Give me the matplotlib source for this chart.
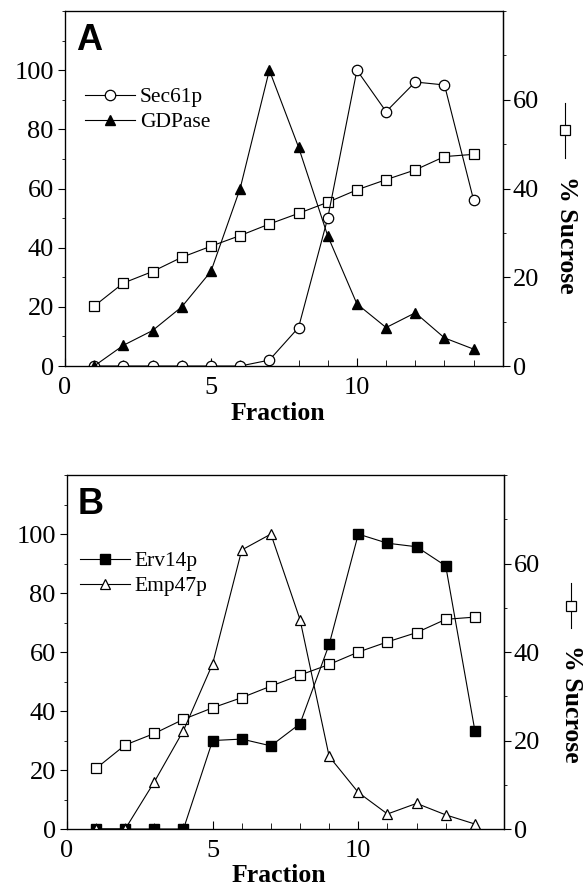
import matplotlib.pyplot as plt
from matplotlib.lines import Line2D
from matplotlib.ticker import MultipleLocator

plt.rcParams["font.family"] = ["Liberation Serif", "DejaVu Serif"]

fractions = [1, 2, 3, 4, 5, 6, 7, 8, 9, 10, 11, 12, 13, 14]

# panel A
sec61p = [0, 0, 0, 0, 0, 0, 2, 13, 50, 100, 86, 96, 95, 56]
gdpase = [0, 7, 12, 20, 32, 60, 100, 74, 44, 21, 13, 18, 9.5, 5.7]
sucrose_a = [13.5, 18.7, 21.3, 24.5, 27, 29.4, 32, 34.4, 36.9, 39.7, 42, 44.2, 47.2, 47.7]

# panel B
erv14p = [0, 0, 0, 0, 30, 30.5, 28.2, 35.7, 62.6, 100, 96.9, 95.7, 89.2, 33.4]
emp47p = [0, 0, 16, 33.4, 56, 94.6, 100, 71, 24.6, 12.4, 5.1, 8.7, 4.8, 1.7]
sucrose_b = [13.7, 19, 21.6, 24.8, 27.4, 29.7, 32.3, 34.8, 37.2, 40, 42.3, 44.4, 47.4, 47.9]

fig = plt.figure(figsize=(5.87, 8.88), dpi=100)

TICK_FS = 19
LAB_FS = 18.5


def panel(rect, letter, s1, s2, sucrose, names, styles, leg_xy, lab_xy):
    ax = fig.add_axes(rect)
    for s, nm, st in zip([s1, s2], names, styles):
        ax.plot(fractions, s, color="black", lw=0.8, label=nm, **st)
    ax.set_xlim(0, 15)
    ax.set_ylim(0, 120)
    ax.set_xticks([0, 5, 10])
    ax.xaxis.set_minor_locator(MultipleLocator(1))
    ax.set_yticks([0, 20, 40, 60, 80, 100])
    ax.yaxis.set_minor_locator(MultipleLocator(10))
    ax.tick_params(axis="x", which="both", direction="in", labelsize=TICK_FS, pad=8)
    ax.tick_params(axis="x", which="major", length=6)
    ax.tick_params(axis="x", which="minor", length=4)
    ax.tick_params(axis="y", which="major", direction="out", length=5,
                   labelsize=TICK_FS, pad=3)
    ax.tick_params(axis="y", which="minor", direction="out", length=2.5)
    for sp in ax.spines.values():
        sp.set_linewidth(0.9)
    ax.set_xlabel("Fraction", fontsize=LAB_FS, fontweight="bold")
    ax.xaxis.set_label_coords(0.485, -0.1)
    ax.text(0.025, 0.965, letter, transform=ax.transAxes, fontsize=26,
            fontweight="bold", family=["Liberation Sans", "DejaVu Sans"],
            va="top", ha="left")
    ax.legend(loc="upper left", bbox_to_anchor=leg_xy, frameon=False,
              fontsize=15.5, handlelength=2.3, handletextpad=0.25,
              labelspacing=0.22, borderaxespad=0, borderpad=0)

    ax2 = ax.twinx()
    ax2.plot(fractions, sucrose, color="black", lw=0.8, marker="s", ms=6.5,
             mfc="white", mec="black", mew=0.9)
    ax2.set_ylim(0, 80)
    ax2.set_yticks([0, 20, 40, 60])
    ax2.yaxis.set_minor_locator(MultipleLocator(10))
    ax2.tick_params(axis="y", which="major", direction="out", length=5,
                    labelsize=TICK_FS, pad=2)
    ax2.tick_params(axis="y", which="minor", direction="out", length=2.5)
    ax2.spines["right"].set_linewidth(0.9)
    ax.set_zorder(ax2.get_zorder() + 1)
    ax.patch.set_visible(False)

    # "-□- % Sucrose" label on the right
    lx, ly0, ly1, tx, ty = lab_xy
    fig.lines.append(Line2D([lx, lx], [ly0, ly1], transform=fig.transFigure,
                            color="black", lw=0.8))
    fig.lines.append(Line2D([lx], [(ly0 + ly1) / 2], transform=fig.transFigure,
                            marker="s", ms=6.5, mfc="white", mec="black", mew=0.9))
    fig.text(tx, ty, "% Sucrose", rotation=-90, fontsize=LAB_FS,
             fontweight="bold", ha="center", va="center")
    return ax


panel([0.1107, 0.5878, 0.746, 0.3998], "A", sec61p, gdpase, sucrose_a,
      ["Sec61p", "GDPase"],
      [dict(marker="o", ms=7.5, mfc="white", mec="black", mew=0.9),
       dict(marker="^", ms=6.5, mfc="black", mec="black")],
      (0.046, 0.785),
      (0.962, 1 - 158 / 888, 1 - 103 / 888, 0.965, 1 - 235 / 888))

panel([0.114, 0.0664, 0.7446, 0.3986], "B", erv14p, emp47p, sucrose_b,
      ["Erv14p", "Emp47p"],
      [dict(marker="s", ms=7, mfc="black", mec="black"),
       dict(marker="^", ms=7, mfc="white", mec="black", mew=0.9)],
      (0.03, 0.785),
      (0.973, 1 - 628 / 888, 1 - 583 / 888, 0.974, 1 - 704 / 888))

fig.savefig("out.png", dpi=100)
